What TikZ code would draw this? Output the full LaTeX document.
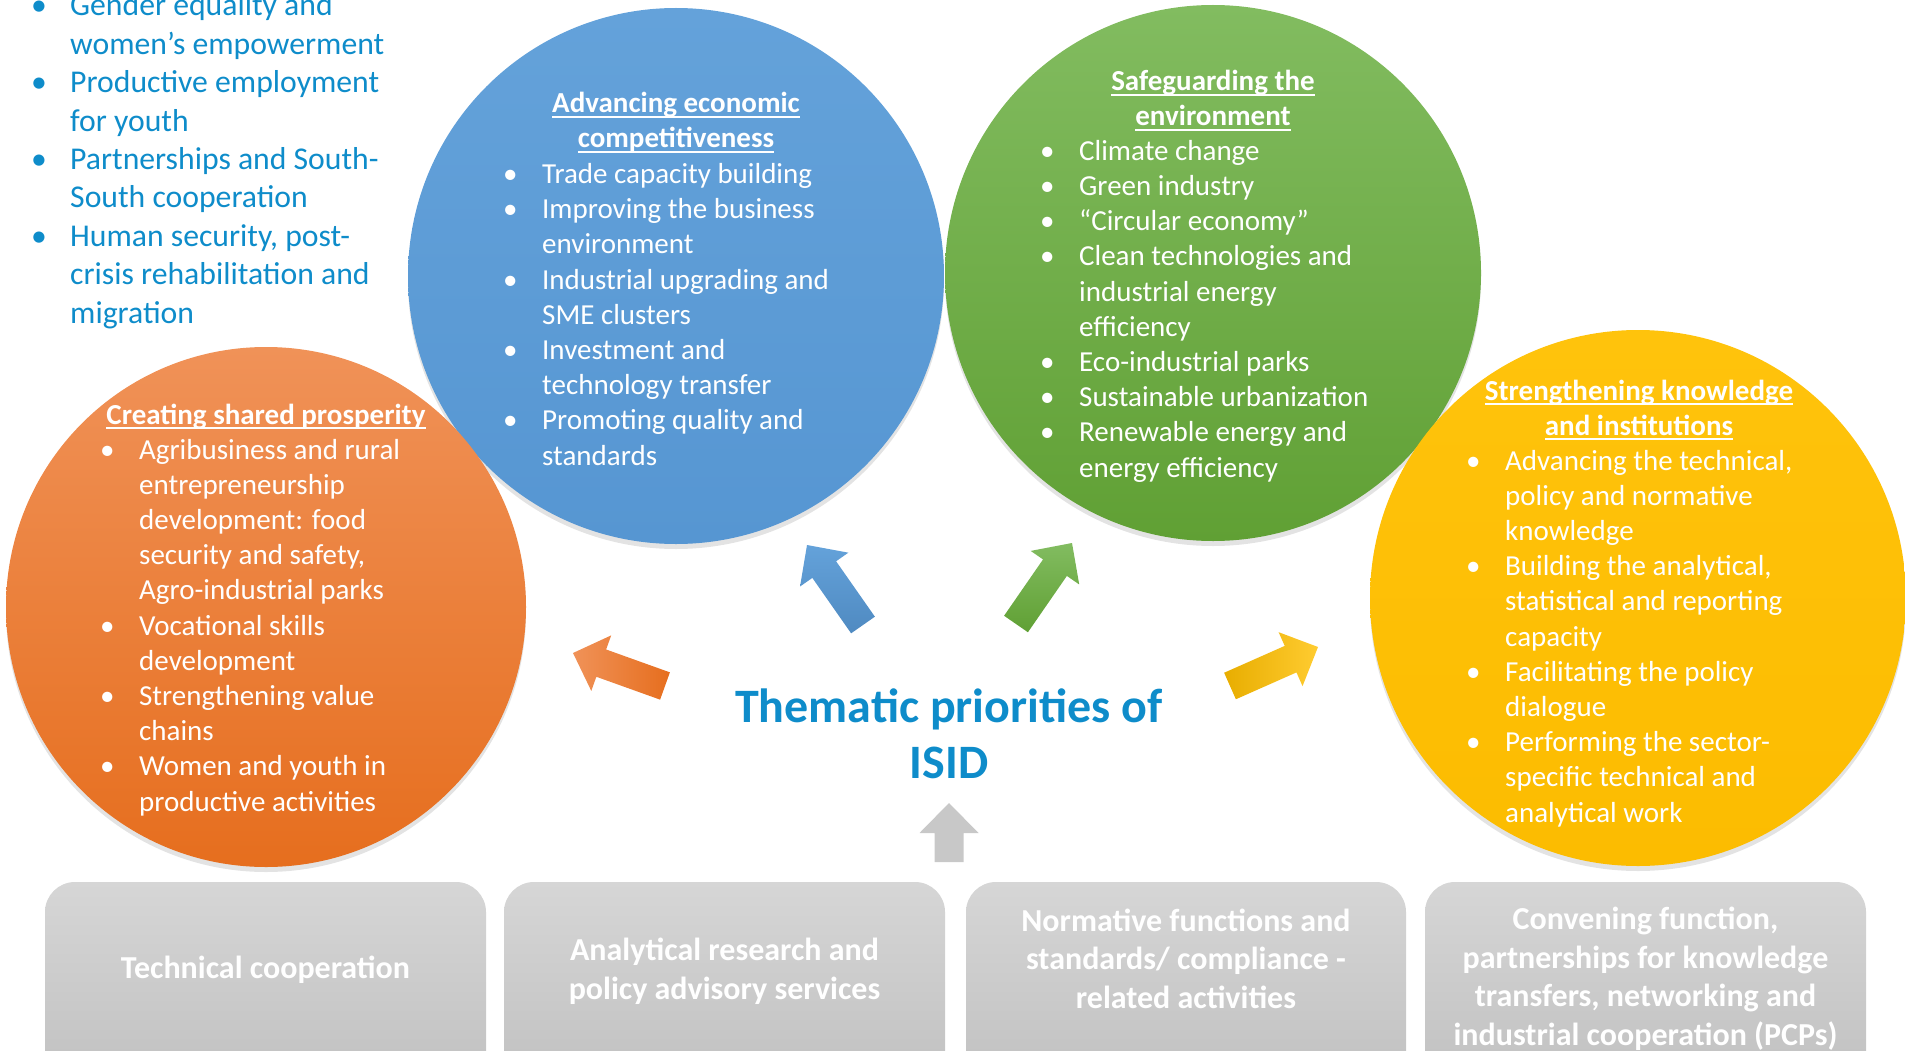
\documentclass[tikz,border=0pt]{standalone}
\usepackage{fontspec}
\setmainfont{Carlito}
\usetikzlibrary{calc, shadows}

\definecolor{isidblue}{RGB}{14,140,202}
\definecolor{blueTop}{RGB}{100,162,218}
\definecolor{blueBot}{RGB}{86,150,210}
\definecolor{greenTop}{RGB}{130,188,96}
\definecolor{greenBot}{RGB}{96,160,52}
\definecolor{orangeTop}{RGB}{240,146,88}
\definecolor{orangeBot}{RGB}{230,110,30}
\definecolor{yellowTop}{RGB}{255,195,12}
\definecolor{yellowBot}{RGB}{252,188,0}
\definecolor{boxTop}{RGB}{214,214,214}
\definecolor{boxBot}{RGB}{190,190,190}
\definecolor{arrGray}{RGB}{200,200,200}

% bullet and continuation indent for the lists
\newcommand\bitem{\makebox[35pt][l]{\kern-4pt\textbullet}}
\newcommand\bcont{\hspace*{35pt}}
% underline that sits just below the baseline
\newcommand\headul[1]{\setbox0\hbox{#1}\rlap{\rule[-5pt]{\wd0}{1.8pt}}\box0}
% block arrow from tail to tip
\newcommand\blockarrow[3]{%
  \coordinate (hb) at ($(#2)!30pt!(#1)$);
  \path[#3] ($(#1)!14.5pt!90:(#2)$) -- ($(hb)!14.5pt!90:(#2)$) -- ($(hb)!29.5pt!90:(#2)$)
    -- (#2) -- ($(hb)!29.5pt!-90:(#2)$) -- ($(hb)!14.5pt!-90:(#2)$)
    -- ($(#1)!14.5pt!-90:(#2)$) -- cycle;}

\begin{document}
\begin{tikzpicture}[x=1pt, y=-1pt,
    % soft shadow under the circles
    circ/.style={drop shadow={shadow xshift=0pt, shadow yshift=-5pt, opacity=0.22}},
    % bulleted text inside the circles (placed at the baseline of the last line)
    listtxt/.style={anchor=base west, inner sep=0pt, align=left, text=white,
        font=\fontsize{29}{35.2}\selectfont},
    headtxt/.style={anchor=base, inner sep=0pt, align=center, text=white,
        font=\fontsize{29}{35}\selectfont\bfseries},
    % grey function boxes at the bottom
    fnbox/.style={top color=boxTop, bottom color=boxBot, rounded corners=30pt},
    boxtxt/.style={anchor=base, inner sep=0pt, align=center, text=white,
        font=\fontsize{32}{38.5}\selectfont\bfseries}
]
\useasboundingbox (0,0) rectangle (1905,1051);
\clip (0,0) rectangle (1905,1051);

% --- CIRCLES ---
\coordinate (blueC) at (676,276);
\coordinate (greenC) at (1213,273);
\coordinate (orangeC) at (266,607);
\coordinate (yellowC) at (1638,598);

\path[circ, top color=blueTop, bottom color=blueBot] (blueC) circle (268pt);
\path[circ, top color=greenTop, bottom color=greenBot] (greenC) circle (268pt);
\path[circ, top color=orangeTop, bottom color=orangeBot] (orangeC) circle (260pt);
\path[circ, top color=yellowTop, bottom color=yellowBot] (yellowC) circle (268pt);

% --- TOP LEFT: cross-cutting issues ---
\node[listtxt, text=isidblue, font=\fontsize{31.7}{38.4}\selectfont] (crossList) at (35,323)
  {\bitem Gender equality and\\
   \bcont women’s empowerment\\
   \bitem Productive employment\\
   \bcont for youth\\
   \bitem Partnerships and South-\\
   \bcont South cooperation\\
   \bitem Human security, post-\\
   \bcont crisis rehabilitation and\\
   \bcont migration};

% --- CIRCLE TEXTS ---
\node[headtxt] (blueHead) at (676,148) {\headul{Advancing economic}\\\headul{competitiveness}};
\node[listtxt] (blueList) at (507,465)
  {\bitem Trade capacity building\\
   \bitem Improving the business\\
   \bcont environment\\
   \bitem Industrial upgrading and\\
   \bcont SME clusters\\
   \bitem Investment and\\
   \bcont technology transfer\\
   \bitem Promoting quality and\\
   \bcont standards};

\node[headtxt] (greenHead) at (1213,126) {\headul{Safeguarding the}\\\headul{environment}};
\node[listtxt] (greenList) at (1044,477)
  {\bitem Climate change\\
   \bitem Green industry\\
   \bitem “Circular economy”\\
   \bitem Clean technologies and\\
   \bcont industrial energy\\
   \bcont efficiency\\
   \bitem Eco-industrial parks\\
   \bitem Sustainable urbanization\\
   \bitem Renewable energy and\\
   \bcont energy efficiency};

\node[headtxt] (orangeHead) at (266,424) {\headul{Creating shared prosperity}};
\node[listtxt] (orangeList) at (104,811)
  {\bitem Agribusiness and rural\\
   \bcont entrepreneurship\\
   \bcont development: food\\
   \bcont security and safety,\\
   \bcont Agro-industrial parks\\
   \bitem Vocational skills\\
   \bcont development\\
   \bitem Strengthening value\\
   \bcont chains\\
   \bitem Women and youth in\\
   \bcont productive activities};

\node[headtxt] (yellowHead) at (1639,435) {\headul{Strengthening knowledge}\\\headul{and institutions}};
\node[listtxt] (yellowList) at (1470,822)
  {\bitem Advancing the technical,\\
   \bcont policy and normative\\
   \bcont knowledge\\
   \bitem Building the analytical,\\
   \bcont statistical and reporting\\
   \bcont capacity\\
   \bitem Facilitating the policy\\
   \bcont dialogue\\
   \bitem Performing the sector-\\
   \bcont specific technical and\\
   \bcont analytical work};

% --- CENTRE TITLE ---
\node[anchor=base, inner sep=0pt, align=center, text=isidblue,
      font=\fontsize{48}{56}\selectfont\bfseries] (title) at (949,778)
  {Thematic priorities of\\ISID};

% --- ARROWS ---
\coordinate (oTail) at (665,686);   \coordinate (oTip) at (573,653);
\coordinate (bTail) at (863,625);   \coordinate (bTip) at (807,545);
\coordinate (gTail) at (1016,624);  \coordinate (gTip) at (1072,543);
\coordinate (yTail) at (1230,686);  \coordinate (yTip) at (1318,647);
\coordinate (upTail) at (949,862);  \coordinate (upTip) at (949,803);

\blockarrow{oTail}{oTip}{left color=orangeTop, right color=orangeBot}
\blockarrow{bTail}{bTip}{top color=blueTop, bottom color=blueBot!92!black}
\blockarrow{gTail}{gTip}{top color=greenTop, bottom color=greenBot}
\blockarrow{yTail}{yTip}{left color=yellowBot!92!black, right color=yellowTop!85!white}
\blockarrow{upTail}{upTip}{fill=arrGray}

% --- BOTTOM: UNIDO functions ---
\foreach \xa/\xb in {45/486, 504/945, 966/1406, 1425/1866}
  \path[fnbox] (\xa,882) rectangle (\xb,1110);

\node[boxtxt] (techCoop) at (265.5,978) {Technical cooperation};
\node[boxtxt] (anaRes) at (724.5,999) {Analytical research and\\policy advisory services};
\node[boxtxt] (normFn) at (1186,1008) {Normative functions and\\standards/ compliance -\\related activities};
\node[boxtxt] (convFn) at (1645.5,1045)
  {Convening function,\\partnerships for knowledge\\transfers, networking and\\industrial cooperation (PCPs)};

\end{tikzpicture}
\end{document}
